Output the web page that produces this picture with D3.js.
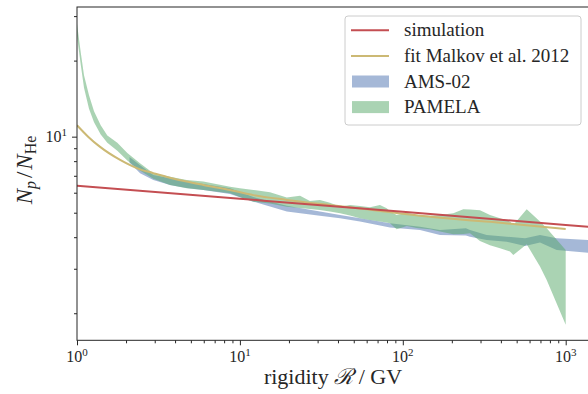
<!DOCTYPE html>
<html>
<head>
<meta charset="utf-8">
<script src="https://cdn.jsdelivr.net/npm/d3@7"></script>
<style>
body { margin: 0; background: #fff; }
text { font-family: "Liberation Serif", "DejaVu Serif", serif; fill: #262626; }
</style>
</head>
<body>
<svg id="chart" width="588" height="394"></svg>
<script>
// simulation (power law, read at a few rigidities)
var simR = [1, 10, 100, 1000, 2000];
var simV = [6.40, 5.68, 5.04, 4.47, 4.31];

// fit Malkov et al. 2012
var fitR = [1, 1.17, 1.38, 1.84, 2.44, 2.94, 3.72, 4.71, 5.96, 8.7, 12.1, 19.4, 35.7, 60, 127.5, 343, 1000];
var fitV = [11.1, 10.0, 9.13, 8.09, 7.42, 7.17, 6.88, 6.64, 6.44, 6.15, 5.87, 5.62, 5.36, 5.16, 4.86, 4.60, 4.31];

// AMS-02 band
var amsR = [2.1, 2.44, 2.94, 3.72, 4.71, 5.96, 8.70, 12.1, 19.4, 31.0, 41.2, 54.6, 83.4, 127.5, 169.2, 244, 258.5, 327.3, 434.4, 563, 695.4, 880.5, 1371, 1800];
var amsLo = [7.90, 7.16, 6.74, 6.44, 6.27, 6.15, 5.93, 5.53, 5.05, 4.86, 4.75, 4.61, 4.37, 4.27, 4.08, 4.06, 4.02, 3.90, 3.84, 3.69, 3.81, 3.56, 3.47, 3.42];
var amsHi = [8.30, 7.70, 7.05, 6.84, 6.64, 6.50, 6.25, 5.77, 5.33, 5.05, 4.90, 4.75, 4.54, 4.40, 4.27, 4.34, 4.27, 4.08, 4.02, 3.96, 4.08, 3.96, 3.90, 3.88];

// PAMELA band
var pamR = [1.0, 1.054, 1.104, 1.185, 1.272, 1.398, 1.535, 1.768, 2.036, 2.436, 2.94, 3.72, 4.71, 5.96, 8.70, 10.0, 12.1, 15.3, 19.4, 23.4, 26.9, 31.0, 35.7, 41.2, 47.4, 54.6, 62.9, 72.4, 79.6, 83.4, 91.7, 105.7, 121.7, 146.9, 169.2, 204.2, 235.2, 258.5, 297.7, 343.0, 395.1, 455.0, 476.9, 576.3, 695.4, 764.4, 1000];
var pamLo = [25.0, 19.3, 15.6, 12.9, 11.4, 10.2, 9.45, 8.80, 8.05, 7.35, 6.82, 6.44, 6.25, 6.15, 5.97, 5.77, 5.53, 5.44, 5.28, 5.22, 5.17, 5.13, 5.05, 4.97, 4.88, 4.75, 4.68, 4.61, 4.57, 4.54, 4.30, 4.43, 4.35, 4.30, 4.21, 4.11, 4.12, 4.15, 3.86, 3.72, 3.62, 3.51, 3.40, 3.75, 3.06, 2.71, 1.80];
var pamHi = [28.0, 21.6, 17.5, 14.6, 12.6, 11.1, 10.1, 9.45, 8.62, 7.85, 7.17, 6.94, 6.74, 6.64, 6.34, 6.25, 6.15, 6.03, 5.74, 5.84, 5.56, 5.62, 5.47, 5.28, 5.36, 5.32, 5.26, 5.36, 5.21, 5.07, 4.90, 5.00, 4.90, 4.86, 4.90, 4.97, 5.16, 5.15, 5.11, 4.90, 4.75, 4.61, 4.47, 5.16, 4.61, 4.34, 3.56];

// ticks
var xMajor = [1, 10, 100, 1000];
var xMajorExp = ['0', '1', '2', '3'];
var yMajor = [10];
var yMajorExp = ['1'];
var yMinor = [2, 3, 4, 5, 6, 7, 8, 9, 20, 30];

var legendLabels = ['simulation', 'fit Malkov et al. 2012', 'AMS-02', 'PAMELA'];

var colors = {
    sim: '#c44e52',
    fit: '#ccb974',
    ams: '#4c72b0',
    pam: '#55a868',
    axis: '#262626'
};

var svg = d3.select('#chart');

// the figure is cut on the right, so the axes run past the svg edge
var plotLeft = 77, plotTop = 7, plotBottom = 340.3;
var decade = 162.9;
var xMax = 2000;
var x = d3.scaleLog().domain([1, xMax]).range([plotLeft, plotLeft + decade * Math.log10(xMax)]);
var y = d3.scaleLog().domain([1.563, 32.6]).range([plotBottom, plotTop]);
var plotRight = x(xMax);

var xMinor = [];
[1, 10, 100, 1000].forEach(function (d) {
    for (var m = 2; m <= 9; m++) {
        if (d * m < xMax) xMinor.push(d * m);
    }
});

svg.append('defs').append('clipPath').attr('id', 'plot-clip')
    .append('rect')
    .attr('x', plotLeft).attr('y', plotTop)
    .attr('width', plotRight - plotLeft).attr('height', plotBottom - plotTop);

var plot = svg.append('g').attr('clip-path', 'url(#plot-clip)');

function zip3(r, lo, hi) {
    return r.map(function (d, i) { return {r: d, lo: lo[i], hi: hi[i]}; });
}
function zip2(r, v) {
    return r.map(function (d, i) { return {r: d, v: v[i]}; });
}

var area = d3.area()
    .x(function (d) { return x(d.r); })
    .y0(function (d) { return y(d.lo); })
    .y1(function (d) { return y(d.hi); });

// bands: AMS first, PAMELA on top
plot.append('path')
    .datum(zip3(amsR, amsLo, amsHi))
    .attr('d', area)
    .attr('fill', colors.ams)
    .attr('fill-opacity', 0.5);

plot.append('path')
    .datum(zip3(pamR, pamLo, pamHi))
    .attr('d', area)
    .attr('fill', colors.pam)
    .attr('fill-opacity', 0.5);

var line = d3.line()
    .x(function (d) { return x(d.r); })
    .y(function (d) { return y(d.v); })
    .curve(d3.curveMonotoneX);

plot.append('path')
    .datum(zip2(fitR, fitV))
    .attr('d', line)
    .attr('fill', 'none')
    .attr('stroke', colors.fit)
    .attr('stroke-width', 2);

plot.append('path')
    .datum(zip2(simR, simV))
    .attr('d', line)
    .attr('fill', 'none')
    .attr('stroke', colors.sim)
    .attr('stroke-width', 2);

// axes (ticks only, spines drawn below)
function styleAxis(g) {
    g.select('.domain').remove();
    g.selectAll('line').attr('stroke', colors.axis).attr('stroke-width', 1);
}

svg.append('g').attr('transform', 'translate(0,' + plotBottom + ')')
    .call(d3.axisBottom(x).tickValues(xMajor).tickSize(5).tickFormat(''))
    .call(styleAxis);
svg.append('g').attr('transform', 'translate(0,' + plotBottom + ')')
    .call(d3.axisBottom(x).tickValues(xMinor).tickSize(3).tickFormat(''))
    .call(styleAxis);
svg.append('g').attr('transform', 'translate(' + plotLeft + ',0)')
    .call(d3.axisLeft(y).tickValues(yMajor).tickSize(5).tickFormat(''))
    .call(styleAxis);
svg.append('g').attr('transform', 'translate(' + plotLeft + ',0)')
    .call(d3.axisLeft(y).tickValues(yMinor).tickSize(3).tickFormat(''))
    .call(styleAxis);

// spines
svg.append('rect')
    .attr('x', plotLeft).attr('y', plotTop)
    .attr('width', plotRight - plotLeft).attr('height', plotBottom - plotTop)
    .attr('fill', 'none')
    .attr('stroke', colors.axis)
    .attr('stroke-width', 1);

// tick labels 10^n
xMajor.forEach(function (d, i) {
    var t = svg.append('text')
        .attr('x', x(d))
        .attr('y', plotBottom + 22)
        .attr('text-anchor', 'middle')
        .attr('font-size', 16);
    t.append('tspan').text('10');
    t.append('tspan').attr('dy', -6).attr('font-size', 11).text(xMajorExp[i]);
});
yMajor.forEach(function (d, i) {
    var t = svg.append('text')
        .attr('x', plotLeft - 10)
        .attr('y', y(d) + 5.5)
        .attr('text-anchor', 'end')
        .attr('font-size', 16);
    t.append('tspan').text('10');
    t.append('tspan').attr('dy', -6).attr('font-size', 11).text(yMajorExp[i]);
});

// axis titles
var xt = svg.append('text')
    .attr('x', 333)
    .attr('y', 384)
    .attr('text-anchor', 'middle')
    .attr('font-size', 22);
xt.append('tspan').text('rigidity ');
xt.append('tspan').attr('font-style', 'italic').text('\u211B');
xt.append('tspan').text(' / GV');

var yt = svg.append('text')
    .attr('transform', 'translate(32,170) rotate(-90)')
    .attr('text-anchor', 'middle')
    .attr('font-size', 23);
yt.append('tspan').attr('font-style', 'italic').text('N');
yt.append('tspan').attr('font-style', 'italic').attr('font-size', 16).attr('dy', 4).text('p');
yt.append('tspan').attr('dy', -4).attr('dx', 3).text('/');
yt.append('tspan').attr('font-style', 'italic').attr('dx', 2).text('N');
yt.append('tspan').attr('font-size', 16).attr('dy', 4).text('He');

// legend
var lg = svg.append('g').attr('transform', 'translate(345,16)');
lg.append('rect')
    .attr('width', 236).attr('height', 109).attr('rx', 3)
    .attr('fill', '#fff').attr('fill-opacity', 0.8)
    .attr('stroke', '#cccccc').attr('stroke-width', 1);

var legendKinds = ['line', 'line', 'patch', 'patch'];
var legendColors = [colors.sim, colors.fit, colors.ams, colors.pam];
legendLabels.forEach(function (label, i) {
    var cy = 14.3 + i * 25.6;
    if (legendKinds[i] === 'line') {
        lg.append('line')
            .attr('x1', 6).attr('x2', 44)
            .attr('y1', cy).attr('y2', cy)
            .attr('stroke', legendColors[i]).attr('stroke-width', 2);
    } else {
        lg.append('rect')
            .attr('x', 7).attr('y', cy - 6)
            .attr('width', 37).attr('height', 12)
            .attr('fill', legendColors[i]).attr('fill-opacity', 0.5);
    }
    lg.append('text')
        .attr('x', 59).attr('y', cy + 6)
        .attr('font-size', 19)
        .text(label);
});
</script>
</body>
</html>
